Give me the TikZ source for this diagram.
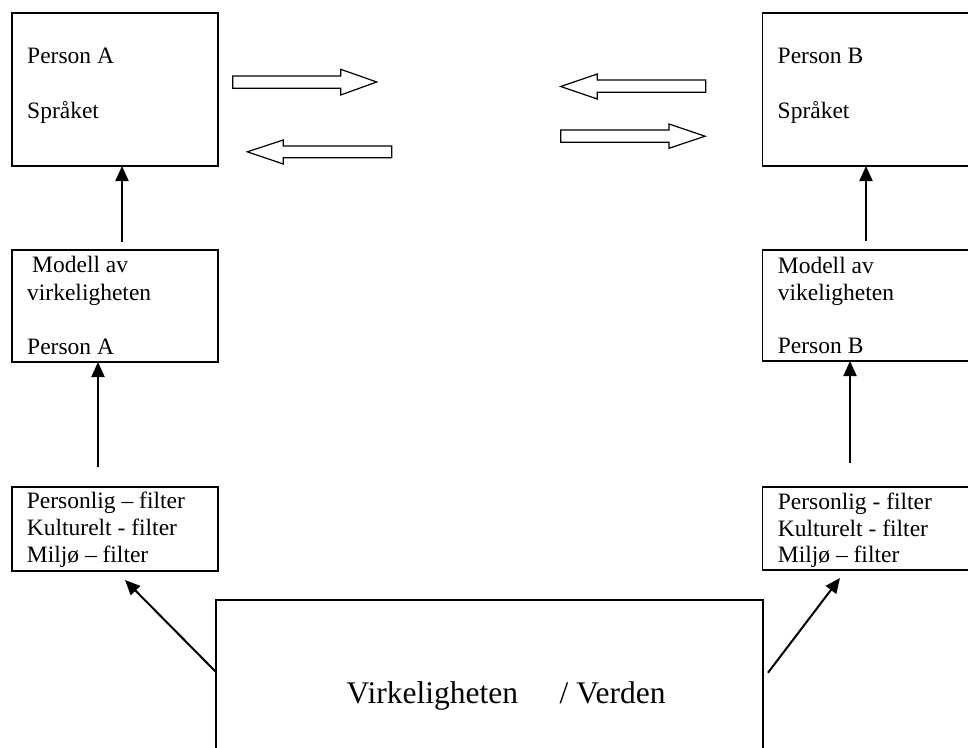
\documentclass[tikz,border=0pt]{standalone}
\usepackage{fontspec}
\setmainfont{Liberation Serif}
\usetikzlibrary{arrows.meta}
\begin{document}
\begin{tikzpicture}[x=1pt,y=-1pt,
  box/.style={draw, line width=1.5pt, rectangle, inner sep=0pt, outer sep=0pt, anchor=north west},
  txt/.style={anchor=base west, inner sep=0pt, font=\fontsize{23.5}{27}\selectfont},
  bigtxt/.style={anchor=base west, inner sep=0pt, font=\fontsize{31.5}{36}\selectfont},
  arr/.style={line width=2pt, -{Triangle[length=15pt,width=13pt]}},
  blockarrow/.style={draw, line width=1.2pt, line join=miter, fill=white}]
\useasboundingbox (0,0) rectangle (968,747);
\clip (0,0) rectangle (968,747);

% boxes
\node[box, minimum width=206pt, minimum height=153pt] (pA) at (12,13) {};
\node[box, minimum width=220pt, minimum height=153pt] (pB) at (762.7,13) {};
\node[box, minimum width=206pt, minimum height=112pt] (mA) at (12,250) {};
\node[box, minimum width=220pt, minimum height=111pt] (mB) at (762.7,250) {};
\node[box, minimum width=206pt, minimum height=84pt] (fA) at (12,487) {};
\node[box, minimum width=220pt, minimum height=83pt] (fB) at (762.7,487) {};
\node[box, minimum width=547pt, minimum height=200pt] (big) at (216,600) {};

% texts
\node[txt] (tA1) at (27,63) {Person A};
\node[txt] (tA2) at (27,118) {Språket};
\node[txt] (tB1) at (777.5,63) {Person B};
\node[txt] (tB2) at (777.5,118) {Språket};

\node[txt] (mA1) at (32,272.7) {Modell av};
\node[txt] (mA2) at (27,300) {virkeligheten};
\node[txt] (mA3) at (27,354) {Person A};
\node[txt] (mB1) at (777.7,273) {Modell av};
\node[txt] (mB2) at (777.7,300) {vikeligheten};
\node[txt] (mB3) at (777.7,353) {Person B};

\node[txt] (fA1) at (26.7,508.5) {Personlig – filter};
\node[txt] (fA2) at (26.7,535.7) {Kulturelt - filter};
\node[txt] (fA3) at (26.7,562.8) {Miljø – filter};
\node[txt] (fB1) at (777.7,509) {Personlig - filter};
\node[txt] (fB2) at (777.7,536) {Kulturelt - filter};
\node[txt] (fB3) at (777.7,562.7) {Miljø – filter};

\node[bigtxt] (world) at (346.5,703) {Virkeligheten\hspace{41.7pt}/ Verden};

% block arrows
\draw[blockarrow] (232.7,76) -- (340.7,76) -- (340.7,69.3) -- (376.7,82) -- (340.7,95) -- (340.7,88.3) -- (232.7,88.3) -- cycle;
\draw[blockarrow] (391.7,146) -- (283.3,146) -- (283.3,140) -- (247.3,151.8) -- (283.3,164) -- (283.3,157.7) -- (391.7,157.7) -- cycle;
\draw[blockarrow] (705.7,80) -- (597.3,80) -- (597.3,74) -- (560.7,86.5) -- (597.3,99) -- (597.3,92.3) -- (705.7,92.3) -- cycle;
\draw[blockarrow] (560.7,130) -- (669,130) -- (669,124) -- (705,136.2) -- (669,148.3) -- (669,142.3) -- (560.7,142.3) -- cycle;

% connectors
\coordinate (a1s) at (122,242);
\coordinate (a2s) at (98,467);
\coordinate (b1s) at (866,241);
\coordinate (b2s) at (850,463);
\coordinate (dls) at (216,672);
\coordinate (dle) at (125,580);
\coordinate (drs) at (768,672.7);
\coordinate (dre) at (840,578);

\draw[arr] (a1s) -- (a1s |- pA.south);
\draw[arr] (a2s) -- (a2s |- mA.south);
\draw[arr] (b1s) -- (b1s |- pB.south);
\draw[arr] (b2s) -- (b2s |- mB.south);
\draw[arr] (dls) -- (dle);
\draw[arr] (drs) -- (dre);
\end{tikzpicture}
\end{document}
